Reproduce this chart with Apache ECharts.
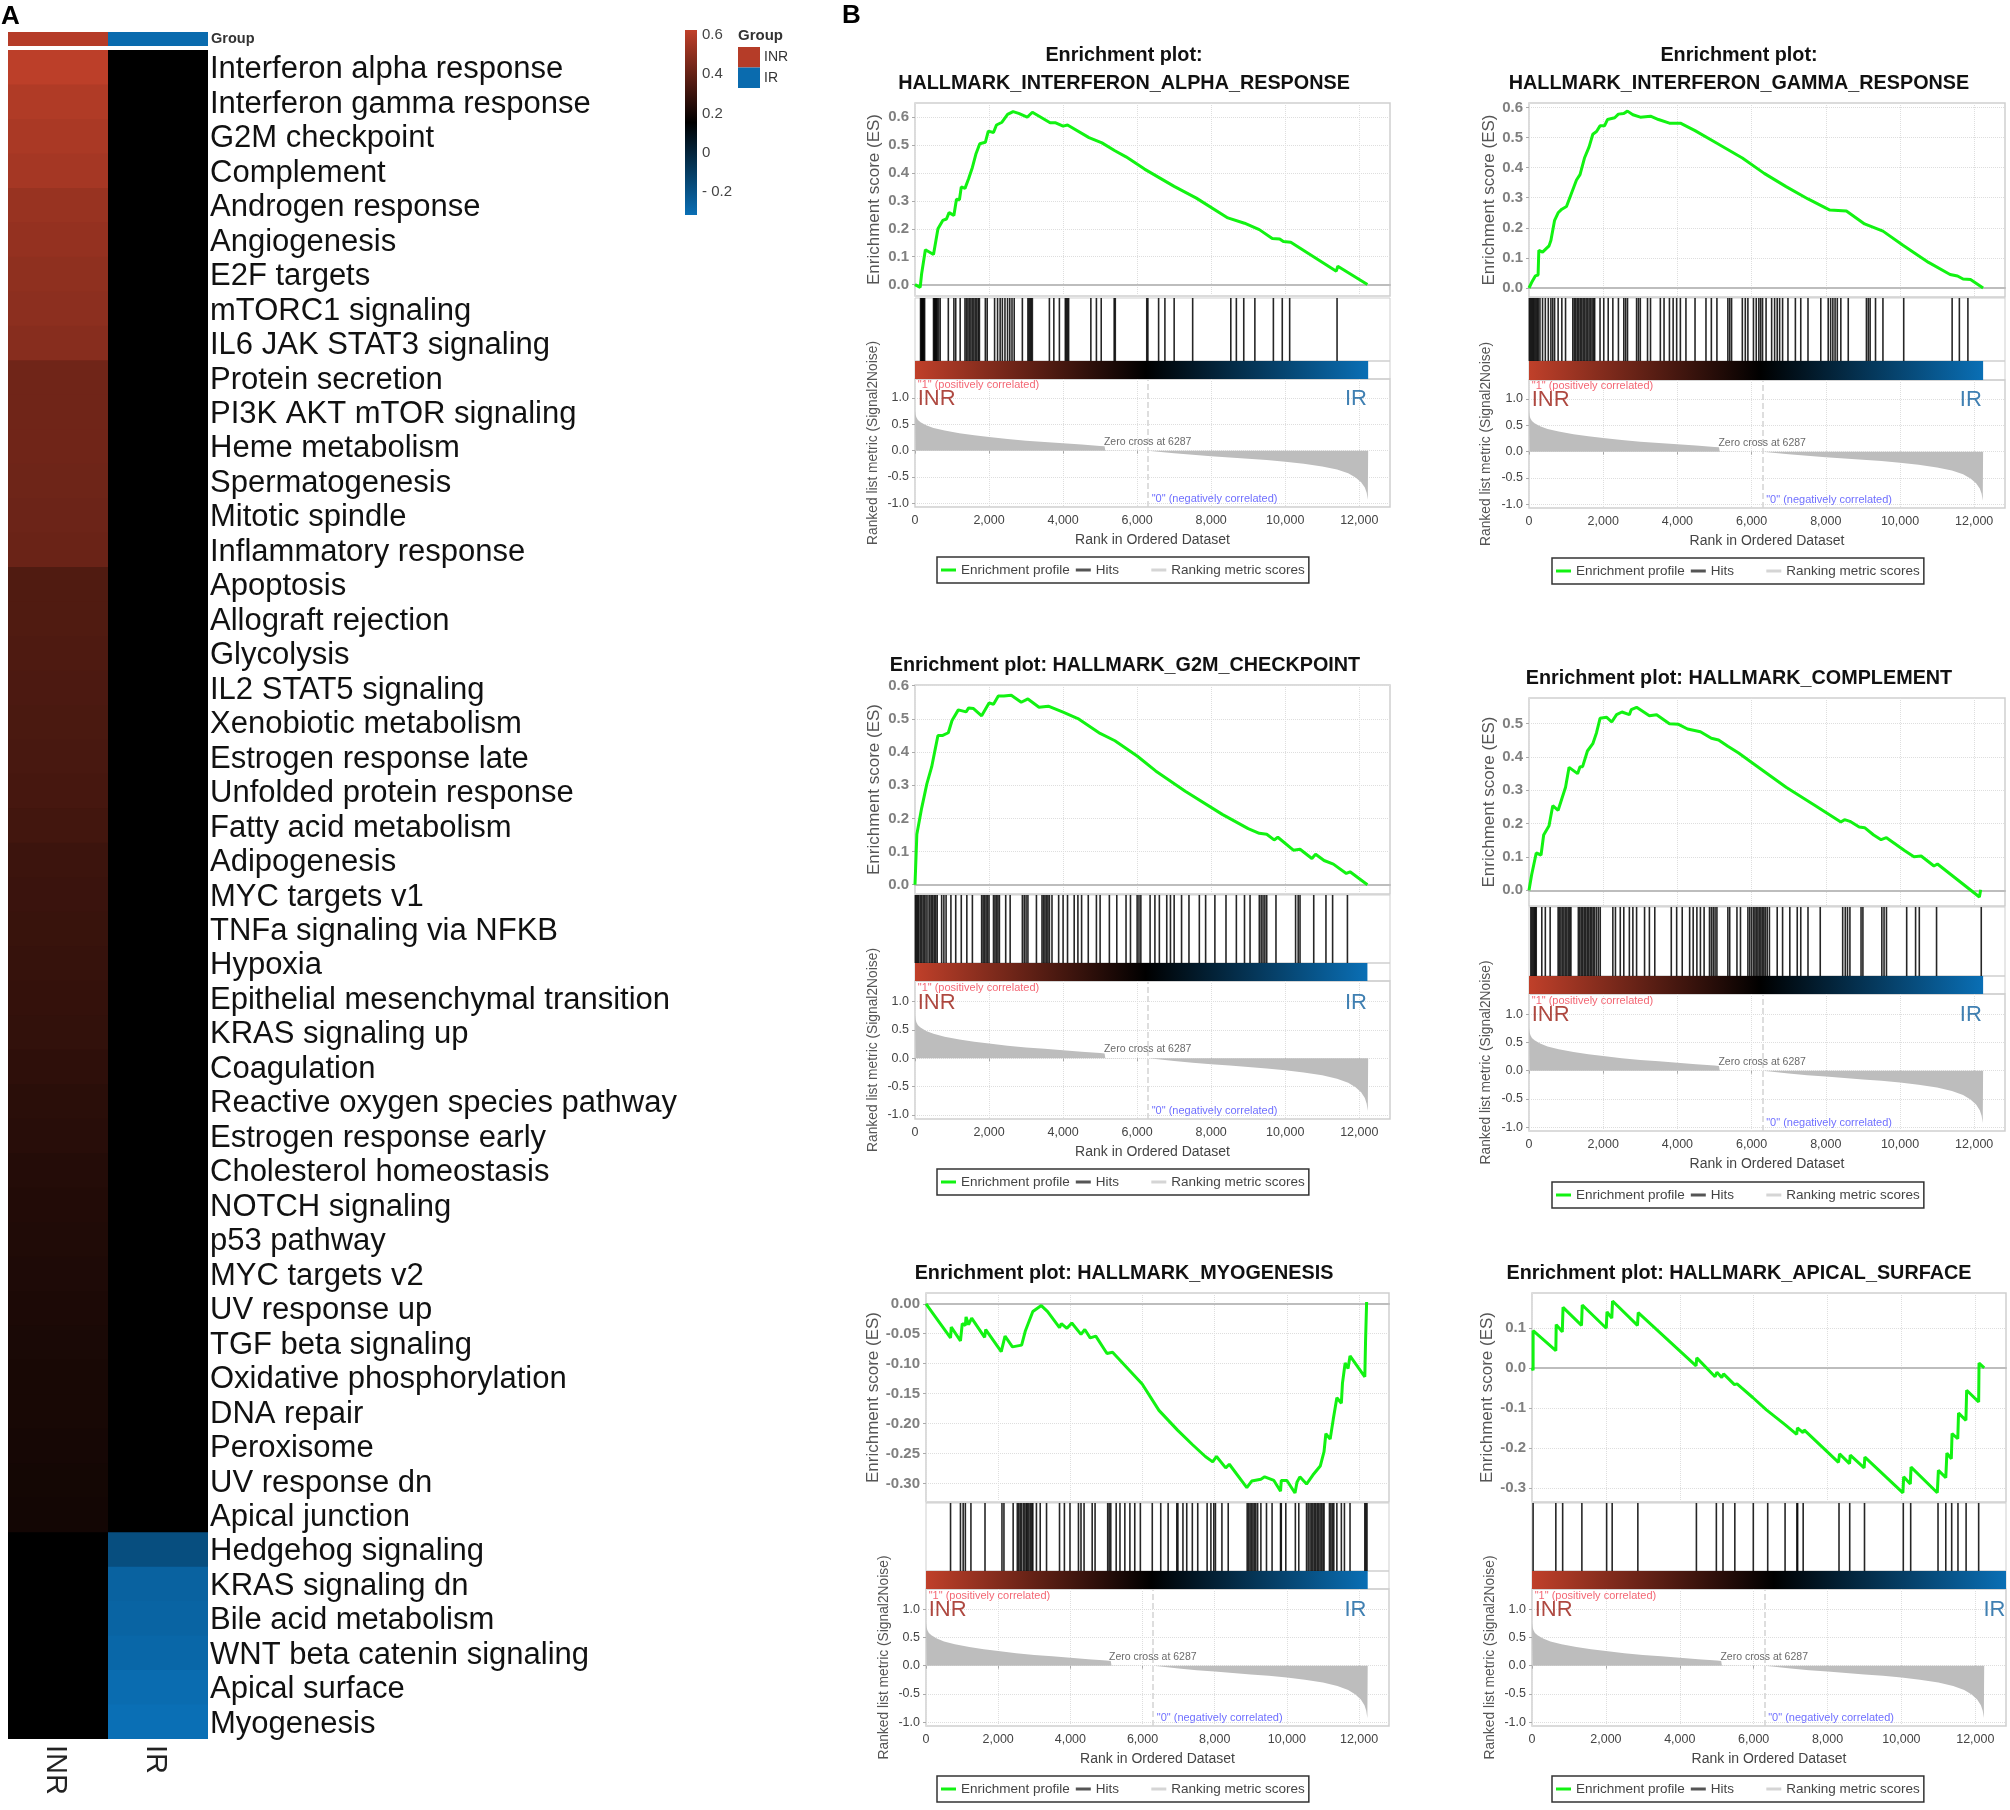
<!DOCTYPE html>
<html><head><meta charset="utf-8">
<style>html,body{margin:0;padding:0;background:#fff}#c{width:2010px;height:1810px}</style>
<script src="https://cdn.jsdelivr.net/npm/echarts@6/dist/echarts.min.js"></script>
</head><body><div id="c"></div>
<script>
// ---------- Panel A data ----------
const PATHWAYS = ["Interferon alpha response","Interferon gamma response","G2M checkpoint","Complement","Androgen response","Angiogenesis","E2F targets","mTORC1 signaling","IL6 JAK STAT3 signaling","Protein secretion","PI3K AKT mTOR signaling","Heme metabolism","Spermatogenesis","Mitotic spindle","Inflammatory response","Apoptosis","Allograft rejection","Glycolysis","IL2 STAT5 signaling","Xenobiotic metabolism","Estrogen response late","Unfolded protein response","Fatty acid metabolism","Adipogenesis","MYC targets v1","TNFa signaling via NFKB","Hypoxia","Epithelial mesenchymal transition","KRAS signaling up","Coagulation","Reactive oxygen species pathway","Estrogen response early","Cholesterol homeostasis","NOTCH signaling","p53 pathway","MYC targets v2","UV response up","TGF beta signaling","Oxidative phosphorylation","DNA repair","Peroxisome","UV response dn","Apical junction","Hedgehog signaling","KRAS signaling dn","Bile acid metabolism","WNT beta catenin signaling","Apical surface","Myogenesis"];
const GROUPS = ["INR","IR"];
const INR_VALUES = [.615,.585,.571,.558,.526,.517,.504,.497,.485,.428,.428,.428,.424,.419,.414,.35,.35,.345,.34,.335,.33,.326,.316,.301,.296,.291,.286,.281,.277,.267,.257,.252,.242,.237,.232,.228,.223,.218,.213,.213,.208,.203,.2,.154,.154,.154,.154,.154,.154];
const IR_VALUES = [.154,.154,.154,.154,.154,.154,.154,.154,.154,.154,.154,.154,.154,.154,.154,.154,.154,.154,.154,.154,.154,.154,.154,.154,.154,.154,.154,.154,.154,.154,.154,.154,.154,.154,.154,.154,.154,.154,.154,.154,.154,.154,.154,-.176,-.263,-.27,-.284,-.303,-.317];
const GROUP_VALUES = [.597,-.3];
const SCALE_TICKS = [-.2,0,.2,.4,.6];
// ---------- Panel B data ----------
const X_TICKS = [0,2000,4000,6000,8000,10000,12000];
const RANK_TICKS = [-1,-.5,0,.5,1];
const METRIC = [[0,.76],[15,.68],[40,.63],[80,.58],[150,.54],[300,.48],[500,.43],[800,.38],[1200,.33],[1600,.29],[2000,.26],[2500,.22],[3000,.19],[3500,.165],[4000,.14],[4500,.115],[5000,.09],[5120,.085],[5140,.004],[6287,0],[6500,-.015],[7000,-.05],[7500,-.08],[8000,-.105],[8500,-.13],[9000,-.155],[9500,-.18],[10000,-.21],[10500,-.25],[11000,-.3],[11400,-.36],[11700,-.43],[11900,-.51],[12050,-.6],[12150,-.7],[12200,-.8],[12230,-.93],[12240,-.95]];

const ES_ALPHA = [[0,0],[140,-.01],[180,.04],[280,.125],[500,.108],[620,.2],[750,.23],[850,.235],[920,.258],[1050,.248],[1120,.306],[1200,.304],[1250,.35],[1350,.345],[1450,.38],[1550,.42],[1650,.47],[1750,.505],[1900,.51],[1980,.55],[2120,.545],[2200,.572],[2350,.582],[2500,.61],[2650,.62],[2800,.614],[3030,.6],[3170,.618],[3650,.58],[3800,.58],[4000,.568],[4120,.572],[4700,.527],[5050,.508],[5400,.48],[5700,.458],[6200,.414],[7000,.352],[7600,.31],[8450,.239],[8900,.22],[9300,.197],[9650,.165],[9850,.163],[9950,.154],[10150,.152],[11380,.048],[11420,.066],[12220,0]];
const HITS_ALPHA = [150,170,190,200,220,240,260,500,520,540,560,580,600,640,680,900,1050,1100,1220,1350,1390,1430,1470,1510,1550,1590,1630,1670,1710,1740,1900,1950,2150,2230,2300,2360,2430,2500,2560,2620,2680,2900,3050,3080,3110,3140,3170,3630,3750,3900,4060,4090,4120,4150,4750,4900,5030,5380,5410,6260,6290,6580,6750,7000,7500,8530,8680,8880,9180,9680,9920,10120,11400];

const ES_GAMMA = [[0,0],[70,.018],[170,.04],[245,.043],[265,.125],[365,.119],[540,.14],[590,.158],[690,.225],[785,.25],[885,.262],[1010,.271],[1130,.31],[1280,.359],[1375,.377],[1495,.432],[1620,.469],[1720,.511],[1820,.52],[1915,.539],[2035,.539],[2115,.56],[2310,.566],[2410,.578],[2555,.58],[2655,.588],[2800,.576],[3000,.568],[3275,.571],[3490,.56],[3785,.548],[4080,.548],[4475,.523],[5065,.481],[5750,.432],[6340,.381],[6930,.337],[7520,.296],[8110,.259],[8555,.256],[9045,.213],[9540,.189],[10080,.142],[10770,.085],[11350,.045],[11550,.04],[11700,.03],[11900,.028],[12240,0]];
const HITS_GAMMA = [10,40,70,100,130,160,190,220,250,295,365,440,520,590,640,690,785,885,985,1180,1220,1260,1300,1340,1380,1420,1460,1500,1540,1580,1620,1660,1700,1740,1770,1915,2015,2135,2260,2410,2555,2605,2655,2900,2950,3000,3195,3275,3540,3640,3785,3885,3980,4080,4230,4475,4770,4915,5065,5360,5410,5460,5750,5830,5900,6050,6125,6195,6245,6295,6390,6540,6620,6690,6755,6835,6980,7180,7325,7520,7865,8065,8130,8190,8250,8310,8405,8605,9095,9145,9195,9340,9540,10100,11405,11600,11830];

const ES_G2M = [[0,0],[50,.152],[180,.231],[320,.304],[450,.355],[550,.411],[620,.45],[750,.45],[900,.458],[1000,.495],[1170,.527],[1380,.521],[1450,.533],[1580,.531],[1800,.509],[2000,.548],[2120,.544],[2250,.569],[2400,.569],[2600,.571],[2870,.55],[3050,.56],[3350,.535],[3600,.538],[4000,.52],[4400,.501],[5000,.456],[5400,.434],[6000,.388],[6500,.343],[7300,.282],[8300,.212],[9000,.169],[9300,.155],[9500,.152],[9700,.135],[9800,.143],[10220,.104],[10400,.107],[10720,.079],[10820,.092],[11050,.073],[11300,.062],[11650,.034],[11750,.039],[12220,0]];
const HITS_G2M = [10,40,70,100,140,180,220,260,300,350,400,440,480,520,560,600,720,780,840,970,1100,1250,1400,1550,1800,1840,1880,1920,1960,2000,2120,2160,2200,2240,2280,2450,2570,2900,2950,3000,3050,3280,3430,3470,3510,3550,3590,3630,3700,3880,4000,4120,4300,4400,4500,4680,4900,5000,5250,5450,5700,5820,6000,6050,6100,6350,6480,6600,6800,6900,7000,7200,7400,7680,7850,8100,8400,8680,8900,9050,9300,9350,9400,9450,9500,9750,10280,10350,10400,10770,11100,11280,11680];

const ES_COMPLEMENT = [[0,0],[70,.046],[195,.112],[325,.106],[395,.166],[540,.194],[640,.254],[785,.24],[985,.309],[1080,.369],[1310,.35],[1375,.371],[1445,.371],[1575,.418],[1720,.44],[1820,.473],[1915,.516],[2095,.519],[2230,.505],[2360,.527],[2505,.535],[2705,.527],[2755,.542],[2900,.549],[3245,.524],[3440,.527],[3785,.5],[4030,.498],[4275,.484],[4620,.476],[4915,.456],[5110,.451],[5360,.432],[5650,.412],[6050,.38],[6930,.309],[7720,.254],[8405,.205],[8505,.212],[8650,.207],[8900,.19],[9045,.188],[9290,.166],[9490,.152],[9635,.158],[10130,.119],[10375,.101],[10570,.103],[10915,.073],[11010,.079],[12140,-.02],[12175,.002]];
const HITS_COMPLEMENT = [50,80,110,140,170,195,345,440,570,785,820,860,900,940,980,1020,1060,1100,1130,1330,1370,1410,1450,1490,1530,1570,1610,1650,1690,1730,1770,1820,1870,1920,2260,2330,2460,2555,2705,2800,2900,3115,3245,3390,3835,3980,4130,4330,4425,4525,4620,4720,4865,4915,4965,5015,5065,5360,5410,5605,5700,5900,5950,6000,6050,6090,6130,6170,6210,6250,6290,6330,6370,6420,6480,6690,6835,7030,7230,7325,7520,7850,8455,8525,8585,8650,8950,9000,9510,9570,9635,10180,10420,10520,10985,12190];

const ES_MYOGENESIS = [[0,0],[680,-.057],[700,-.039],[955,-.062],[1005,-.033],[1090,-.036],[1110,-.022],[1180,-.035],[1265,-.024],[1625,-.056],[1655,-.043],[2085,-.08],[2190,-.054],[2395,-.072],[2650,-.069],[2755,-.045],[2960,-.013],[3195,-.003],[3370,-.013],[3700,-.04],[3750,-.033],[3905,-.041],[4040,-.032],[4295,-.051],[4400,-.043],[4550,-.057],[4705,-.054],[5015,-.083],[5170,-.081],[5990,-.134],[6455,-.178],[6970,-.211],[7380,-.235],[7740,-.255],[7945,-.264],[8050,-.255],[8305,-.274],[8405,-.268],[8890,-.307],[9025,-.296],[9280,-.293],[9385,-.289],[9640,-.295],[9825,-.313],[9845,-.295],[10000,-.295],[10225,-.316],[10280,-.298],[10360,-.289],[10545,-.301],[10720,-.286],[10925,-.271],[11030,-.247],[11080,-.217],[11200,-.226],[11285,-.193],[11385,-.157],[11510,-.166],[11540,-.133],[11615,-.099],[11695,-.108],[11750,-.087],[12160,-.122],[12180,-.063],[12210,.003]];
const HITS_MYOGENESIS = [680,955,1030,1090,1245,1635,2105,2160,2415,2530,2570,2610,2650,2700,2740,2780,2810,2850,2890,2930,2960,3060,3165,3340,3700,3835,3990,4225,4295,4380,4605,4685,5035,5075,5120,5270,5375,5510,5650,5785,5940,6270,6505,6710,6950,6980,7120,7225,7380,7530,7790,7895,7975,8020,8200,8375,8900,8940,8980,9020,9060,9100,9140,9190,9280,9435,9590,9825,9845,9970,10235,10330,10545,10590,10640,10680,10720,10760,10800,10840,10880,10920,10960,11000,11030,11180,11220,11260,11300,11385,11510,11595,11750,12160,12190,12220];

const ES_APICAL = [[0,0],[30,-.006],[30,.093],[645,.043],[655,.108],[820,.09],[840,.151],[1340,.106],[1360,.157],[2010,.099],[2030,.14],[2160,.124],[2180,.167],[2855,.106],[2875,.138],[4440,.005],[4460,.025],[4955,-.022],[5005,-.011],[5135,-.024],[5185,-.015],[5480,-.042],[5550,-.04],[5975,-.074],[6345,-.105],[6840,-.141],[7165,-.166],[7185,-.15],[7335,-.162],[7365,-.155],[8295,-.236],[8325,-.215],[8595,-.239],[8615,-.218],[8990,-.25],[9010,-.223],[10040,-.312],[10060,-.272],[10240,-.29],[10260,-.248],[10970,-.312],[11000,-.256],[11200,-.274],[11230,-.213],[11350,-.227],[11370,-.164],[11525,-.177],[11545,-.113],[11745,-.131],[11765,-.056],[12090,-.085],[12100,.012],[12240,0]];
const HITS_APICAL = [30,645,830,1350,2020,2170,2865,4450,4990,5170,5490,5990,6380,6850,7170,7190,7340,8310,8600,9000,10050,10250,10990,11200,11360,11530,11750,12090];

const ES_TICKS_A = [0,.1,.2,.3,.4,.5,.6];
const ES_TICKS_C = [0,.1,.2,.3,.4,.5];
const ES_TICKS_M = [0,-.05,-.1,-.15,-.2,-.25,-.3];
const ES_TICKS_S = [.1,0,-.1,-.2,-.3];

const PLOTS = [
 {title:"Enrichment plot:\nHALLMARK_INTERFERON_ALPHA_RESPONSE", es:ES_ALPHA, hits:HITS_ALPHA, ticks:ES_TICKS_A, dec:1, yr:[-.041,.651], barEnd:12240, box:[915,1390,103,296,298,361,379,507], leg:[937,557], tx:1124, ty:42, gap:[32,35]},
 {title:"Enrichment plot:\nHALLMARK_INTERFERON_GAMMA_RESPONSE", es:ES_GAMMA, hits:HITS_GAMMA, ticks:ES_TICKS_A, dec:1, yr:[-.03,.615], barEnd:12240, box:[1529,2005,103,297,298,361,380,508], leg:[1552,558], tx:1739, ty:42, gap:[31,36]},
 {title:"Enrichment plot: HALLMARK_G2M_CHECKPOINT", es:ES_G2M, hits:HITS_G2M, ticks:ES_TICKS_A, dec:1, yr:[-.028,.602], barEnd:12220, box:[915,1390,685,894,895,963,981,1119], leg:[937,1169], tx:1125, ty:652, gap:[32,35]},
 {title:"Enrichment plot: HALLMARK_COMPLEMENT", es:ES_COMPLEMENT, hits:HITS_COMPLEMENT, ticks:ES_TICKS_C, dec:1, yr:[-.047,.577], barEnd:12240, box:[1529,2005,698,906,907,976,994,1131], leg:[1552,1182], tx:1739, ty:665, gap:[31,36]},
 {title:"Enrichment plot: HALLMARK_MYOGENESIS", es:ES_MYOGENESIS, hits:HITS_MYOGENESIS, ticks:ES_TICKS_M, dec:2, yr:[-.331,.018], barEnd:12240, box:[926,1389,1293,1502,1503,1571,1589,1726], leg:[937,1776], tx:1124, ty:1260, gap:[43,35]},
 {title:"Enrichment plot: HALLMARK_APICAL_SURFACE", es:ES_APICAL, hits:HITS_APICAL, ticks:ES_TICKS_S, dec:1, yr:[-.335,.187], barEnd:12830, box:[1532,2006,1293,1502,1503,1571,1589,1726], leg:[1552,1776], tx:1739, ty:1260, gap:[36,35]}
];

const FONT = "Liberation Sans";
const RED="#c0402a", BLUE="#0a6fb5";
const grid=[], xAxis=[], yAxis=[], series=[], title=[], legend=[];
const heatSeries=[];

function addGrid(g,x,y){ grid.push(Object.assign({containLabel:false},g)); xAxis.push(Object.assign({gridIndex:grid.length-1},x)); yAxis.push(Object.assign({gridIndex:grid.length-1},y)); return grid.length-1; }
const hidden={show:false};
const noAxis={axisLine:hidden,axisTick:hidden,splitLine:hidden};

// Heat cells coloured through the shared visualMap; one extra pixel of height closes seams between rows.
function heatCells(gi,data){
  heatSeries.push(series.length);
  series.push({type:'custom',xAxisIndex:gi,yAxisIndex:gi,silent:true,animation:false,data,dimensions:['x','y','v'],encode:{x:0,y:1},
    renderItem:(p,api)=>{const c=api.coord([api.value(0),api.value(1)]),s=api.size([1,1]);
      return {type:'rect',shape:{x:c[0]-s[0]/2,y:c[1]-s[1]/2,width:s[0],height:s[1]+(p.dataIndex<p.dataInsideLength-2?1:0)},style:{fill:api.visual('color')}};}});
}

// Group annotation strip
let gi=addGrid({left:8,width:200,top:32,height:14},
  Object.assign({type:'category',data:GROUPS,axisLabel:hidden},noAxis),
  Object.assign({type:'category',data:['Group'],position:'right',axisLabel:{fontFamily:FONT,fontWeight:'bold',fontSize:14.5,color:'#333',margin:3}},noAxis));
heatCells(gi,GROUP_VALUES.map((v,i)=>[i,0,v]));

// Main heatmap
gi=addGrid({left:8,width:200,top:50,height:1689},
  Object.assign({type:'category',data:GROUPS,position:'bottom',axisLabel:{rotate:-90,color:'#222',margin:6,interval:0,formatter:v=>`{a|${v}}`,rich:{a:{fontFamily:FONT,fontSize:29,color:'#222',padding:[7,0,0,0]}}}},noAxis),
  Object.assign({type:'category',data:PATHWAYS,inverse:true,position:'right',axisLabel:{interval:0,color:'#111',margin:2,formatter:v=>`{a|${v}}`,rich:{a:{fontFamily:FONT,fontSize:31,color:'#111',padding:[5,0,0,0]}}}},noAxis));
heatCells(gi,PATHWAYS.flatMap((p,i)=>[[0,i,INR_VALUES[i]],[1,i,IR_VALUES[i]]]));

// Colour scale bar
const SCALE_MIN=-.317, SCALE_MAX=.625;
gi=addGrid({left:685,width:12,top:30,height:185},
  Object.assign({type:'value',min:0,max:1,axisLabel:hidden},noAxis),
  {type:'value',min:SCALE_MIN,max:SCALE_MAX,position:'right',axisLine:hidden,splitLine:hidden,
   axisTick:{show:false,customValues:SCALE_TICKS},
   axisLabel:{customValues:SCALE_TICKS,fontFamily:FONT,fontSize:15,color:'#444',margin:5,formatter:v=>v<0?'- '+(-v).toFixed(1):(v===0?'0':v.toFixed(1))}});
series.push({type:'custom',xAxisIndex:gi,yAxisIndex:gi,silent:true,animation:false,data:[[0,SCALE_MIN,1,SCALE_MAX]],encode:{x:[0,2],y:[1,3]},
  renderItem:(p,api)=>{const a=api.coord([0,SCALE_MAX]),b=api.coord([1,SCALE_MIN]);
    return {type:'rect',shape:{x:a[0],y:a[1],width:b[0]-a[0],height:b[1]-a[1]},style:{fill:{type:'linear',x:0,y:0,x2:0,y2:1,colorStops:[{offset:0,color:RED},{offset:.5,color:'#000'},{offset:1,color:BLUE}]}}};}});

// Group legend swatches
gi=addGrid({left:738,width:22,top:47,height:41},
  Object.assign({type:'category',data:['Group'],axisLabel:hidden},noAxis),
  Object.assign({type:'category',data:GROUPS,inverse:true,position:'right',axisLabel:{interval:0,fontFamily:FONT,fontSize:14,color:'#333',margin:4}},noAxis));
heatCells(gi,GROUP_VALUES.map((v,i)=>[0,i,v]));

title.push({text:'A',left:1,top:4,padding:0,textStyle:{fontFamily:FONT,fontWeight:'bold',fontSize:26,color:'#000'}});
title.push({text:'B',left:842,top:3,padding:0,textStyle:{fontFamily:FONT,fontWeight:'bold',fontSize:26,color:'#000'}});
title.push({text:'Group',left:738,top:28,padding:0,textStyle:{fontFamily:FONT,fontWeight:'bold',fontSize:15,color:'#333'}});

const FRAME='#cfcfcf', DOT={type:'dotted',color:'#dedede',width:1};
const X_MAX=12830;

PLOTS.forEach(P=>{
  const [l,r,et,eb,ht,bt,bb,rb]=P.box, w=r-l;
  title.push({text:P.title,left:P.tx,top:P.ty,padding:0,textAlign:'center',textStyle:{fontFamily:FONT,fontWeight:'bold',fontSize:19.8,lineHeight:28,color:'#111'}});

  // Enrichment score
  let g=addGrid({left:l,width:w,top:et,height:eb-et,show:true,backgroundColor:'#fff',borderColor:FRAME,borderWidth:1.5},
    {type:'value',min:0,max:X_MAX,axisLabel:hidden,axisTick:{show:false,customValues:X_TICKS},axisLine:{onZero:true,lineStyle:{color:'#bdbdbd',width:2}},splitLine:{show:true,lineStyle:DOT}},
    {type:'value',min:P.yr[0],max:P.yr[1],name:'Enrichment score (ES)',nameLocation:'middle',nameGap:P.gap[0],nameTextStyle:{fontFamily:FONT,fontSize:17,color:'#555'},
     axisLine:hidden,axisTick:{show:true,length:3,lineStyle:{color:'#aaa'},customValues:P.ticks},splitLine:{show:true,lineStyle:DOT},
     axisLabel:{customValues:P.ticks,fontFamily:FONT,fontSize:15,color:'#808080',fontWeight:'bold',margin:6,formatter:v=>v.toFixed(P.dec)}});
  series.push({type:'line',name:'Enrichment profile',xAxisIndex:g,yAxisIndex:g,data:P.es,showSymbol:false,lineStyle:{color:'#12f212',width:3},itemStyle:{color:'#12f212'},animation:false,silent:true,z:5});

  // Hits
  g=addGrid({left:l,width:w,top:ht,height:bt-ht,show:true,borderColor:FRAME,borderWidth:1},
    Object.assign({type:'value',min:0,max:X_MAX,axisLabel:hidden},noAxis),
    Object.assign({type:'value',min:0,max:1,axisLabel:hidden},noAxis));
  series.push({type:'custom',name:'Hits',xAxisIndex:g,yAxisIndex:g,silent:true,animation:false,data:P.hits.map(x=>[x]),encode:{x:0},itemStyle:{color:'#333'},
    renderItem:(p,api)=>{const a=api.coord([api.value(0),1]),b=api.coord([api.value(0),0]);
      return {type:'line',shape:{x1:a[0],y1:a[1],x2:b[0],y2:b[1]},style:{stroke:'#000',lineWidth:1.6,opacity:.85}};}});

  // Gradient bar
  g=addGrid({left:l,width:w,top:bt,height:bb-bt,show:true,borderColor:FRAME,borderWidth:1},
    Object.assign({type:'value',min:0,max:X_MAX,axisLabel:hidden},noAxis),
    Object.assign({type:'value',min:0,max:1,axisLabel:hidden},noAxis));
  series.push({type:'custom',xAxisIndex:g,yAxisIndex:g,silent:true,animation:false,data:[[0,P.barEnd]],encode:{x:[0,1]},
    renderItem:(p,api)=>{const a=api.coord([api.value(0),1]),b=api.coord([api.value(1),0]);
      return {type:'rect',shape:{x:a[0],y:a[1],width:b[0]-a[0],height:b[1]-a[1]},style:{fill:{type:'linear',x:0,y:0,x2:1,y2:0,colorStops:[{offset:0,color:RED},{offset:.51,color:'#000'},{offset:1,color:BLUE}]}}};}});

  // Ranked list metric
  g=addGrid({left:l,width:w,top:bb,height:rb-bb,show:true,borderColor:FRAME,borderWidth:1.5},
    {type:'value',min:0,max:X_MAX,name:'Rank in Ordered Dataset',nameLocation:'middle',nameGap:26,nameTextStyle:{fontFamily:FONT,fontSize:14,color:'#444'},
     axisLine:hidden,axisTick:{show:true,length:3,lineStyle:{color:'#aaa'},customValues:X_TICKS},splitLine:{show:true,lineStyle:DOT},
     axisLabel:{customValues:X_TICKS,fontFamily:FONT,fontSize:12.5,color:'#444',margin:7,formatter:v=>v.toLocaleString('en-US')}},
    {type:'value',min:-1.07,max:1.36,name:'Ranked list metric (Signal2Noise)',nameLocation:'middle',nameGap:P.gap[1],nameTextStyle:{fontFamily:FONT,fontSize:13.8,color:'#555'},
     axisLine:hidden,axisTick:{show:true,length:3,lineStyle:{color:'#aaa'},customValues:RANK_TICKS},splitLine:{show:true,lineStyle:DOT},
     axisLabel:{customValues:RANK_TICKS,fontFamily:FONT,fontSize:12.5,color:'#444',margin:6,formatter:v=>v.toFixed(1)}});
  series.push({type:'line',name:'Ranking metric scores',xAxisIndex:g,yAxisIndex:g,data:METRIC,showSymbol:false,silent:true,animation:false,
    lineStyle:{width:0,color:'#bdbdbd'},itemStyle:{color:'#bdbdbd'},areaStyle:{color:'#bdbdbd',origin:0,opacity:1},
    markLine:{silent:true,symbol:'none',animation:false,label:{show:false},lineStyle:{type:'dashed',color:'#d4d4d4',width:1.5},data:[{xAxis:6287}]}});
  const lab=(x,y,t,pos,st)=>({value:[x,y],label:Object.assign({show:true,formatter:t,position:pos,distance:0,fontFamily:FONT},st)});
  series.push({type:'scatter',xAxisIndex:g,yAxisIndex:g,silent:true,animation:false,symbolSize:1,itemStyle:{color:'transparent'},z:6,
    data:[
      lab(60,1.24,'"1" (positively correlated)','right',{fontSize:11,color:'#f04050'}),
      lab(60,.98,'INR','right',{fontSize:22,color:'#9a1a10'}),
      lab(P.barEnd===12830?12830:12220,.98,'IR','left',{fontSize:22,color:'#10609f'}),
      lab(6285,.16,'Zero cross at 6287','inside',{fontSize:10.5,color:'#444'}),
      lab(6380,-.92,'"0" (negatively correlated)','right',{fontSize:11,color:'#4a4aff'})
    ]});

  legend.push({left:P.leg[0],top:P.leg[1],orient:'horizontal',selectedMode:false,show:true,itemWidth:15,itemHeight:3,itemGap:6,padding:[6,4,6,4],
    borderColor:'#333',borderWidth:1.5,backgroundColor:'#fff',textStyle:{fontFamily:FONT,fontSize:13.5,color:'#444'},
    formatter:n=>n==='Hits'?'Hits       ':n,
    data:[{name:'Enrichment profile',icon:'rect',itemStyle:{color:'#12f212'}},{name:'Hits',icon:'rect',itemStyle:{color:'#555'}},{name:'Ranking metric scores',icon:'rect',itemStyle:{color:'#d5d5d5'}}]});
});

const chart=echarts.init(document.getElementById('c'),null,{renderer:'canvas'});
chart.setOption({backgroundColor:'#fff',animation:false,title,legend,grid,xAxis,yAxis,series,
  visualMap:[{type:'continuous',show:false,min:SCALE_MIN,max:SCALE_MAX,seriesIndex:heatSeries,dimension:2,inRange:{color:[BLUE,'#000',RED]}}]});
</script></body></html>
